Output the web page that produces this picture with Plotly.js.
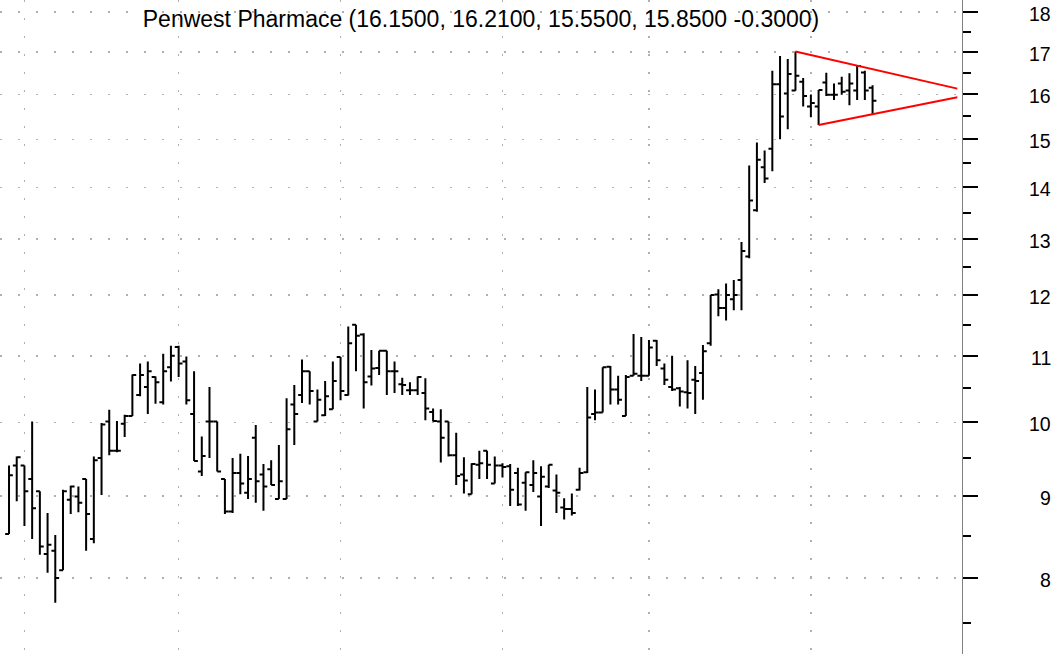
<!DOCTYPE html>
<html>
<head>
<meta charset="utf-8">
<script src="https://cdn.plot.ly/plotly-3.0.1.min.js"></script>
<style>
html,body{margin:0;padding:0;background:#fff;}
#chart{width:1061px;height:654px;}
</style>
</head>
<body>
<div id="chart"></div>
<script>
const titleText = "Penwest Pharmace (16.1500, 16.2100, 15.5500, 15.8500 -0.3000)";

const openP = [8.52,9.40,9.40,9.22,9.06,8.28,8.32,8.09,8.95,8.99,
  9.22,8.46,9.50,10.01,9.60,9.98,10.09,10.40,10.52,10.67,
  10.29,10.82,11.14,10.91,10.12,9.32,10.01,10.01,9.22,8.80,
  9.30,9.04,9.78,9.28,9.35,8.96,8.96,10.26,10.40,10.76,
  10.01,10.10,10.19,10.98,10.40,11.50,11.34,10.68,10.81,11.08,
  10.76,10.56,10.47,10.47,10.43,10.15,10.01,10.01,9.54,9.28,
  9.02,9.41,9.60,9.16,9.40,9.39,9.30,9.17,9.14,8.99,
  9.12,9.07,8.85,8.83,9.08,9.31,10.12,10.14,10.83,10.48,
  10.09,10.69,10.69,10.69,11.24,10.80,10.52,10.50,10.44,10.63,
  10.73,11.20,12.01,11.78,11.93,12.26,12.68,13.55,14.41,14.80,
  16.23,16.02,16.09,16.29,15.72,15.72,16.27,15.99,16.25,16.09,
  16.09,16.51,16.15];
const highP = [9.40,9.52,9.40,10.01,9.06,8.78,8.51,9.08,9.13,9.12,
  9.22,9.52,9.99,10.18,10.02,10.11,10.71,10.88,10.91,10.68,
  11.03,11.16,11.16,10.99,10.76,9.80,10.52,10.01,9.22,9.50,
  9.56,9.53,9.96,9.42,9.47,9.68,10.35,10.55,10.94,10.76,
  10.48,10.61,10.91,10.98,11.47,11.50,11.36,11.09,11.08,11.08,
  10.91,10.66,10.59,10.68,10.65,10.20,10.19,10.01,9.85,9.51,
  9.43,9.60,9.60,9.52,9.43,9.42,9.37,9.31,9.47,9.39,
  9.41,9.28,8.97,9.03,9.37,10.52,10.48,10.82,10.84,10.69,
  10.70,11.35,11.30,11.25,11.25,10.88,11.00,10.52,10.93,10.84,
  11.17,12.00,12.10,12.20,12.26,12.95,14.45,14.93,14.76,16.55,
  16.90,16.83,17.01,16.38,15.99,16.10,16.50,16.25,16.41,16.49,
  16.68,16.55,16.21];
const lowP = [8.52,8.93,8.62,8.46,8.27,8.06,7.72,8.09,8.77,8.79,
  8.32,8.41,9.01,9.54,9.58,9.79,10.09,10.38,10.12,10.27,
  10.26,10.60,10.67,10.26,9.46,9.26,9.50,9.32,8.77,8.78,
  9.02,8.96,8.91,8.81,9.14,8.96,8.96,9.68,10.28,10.26,
  10.01,10.09,10.19,10.32,10.39,10.76,10.20,10.54,10.70,10.40,
  10.43,10.40,10.40,10.40,10.03,10.01,9.44,9.52,9.14,9.03,
  9.02,9.22,9.22,9.16,9.24,8.87,8.87,8.81,9.05,8.62,
  9.10,8.78,8.70,8.75,9.07,9.30,10.03,10.14,10.26,10.26,
  10.09,10.69,10.61,10.69,10.84,10.55,10.46,10.23,10.20,10.12,
  10.33,11.16,11.64,11.57,11.74,11.74,12.65,13.52,14.09,14.33,
  15.00,15.22,16.08,15.72,15.48,15.31,15.96,15.87,15.99,15.75,
  15.87,15.87,15.55];
const closeP = [9.27,9.51,9.06,8.84,8.37,8.39,8.00,9.06,9.12,8.91,
  8.77,9.47,9.97,9.60,9.60,10.09,10.70,10.70,10.76,10.59,
  10.76,11.00,10.88,10.32,9.46,9.53,10.01,9.32,8.80,9.30,
  9.16,9.22,9.19,9.12,9.14,9.19,9.90,10.12,10.76,10.46,
  10.33,10.38,10.61,10.46,11.20,11.32,10.59,10.80,11.08,10.76,
  10.76,10.55,10.47,10.67,10.20,10.02,9.78,9.54,9.26,9.20,
  9.42,9.43,9.41,9.40,9.38,9.08,8.89,9.31,9.30,9.25,
  9.41,9.04,8.83,8.78,9.30,10.07,10.14,10.82,10.48,10.33,
  10.67,10.72,10.69,11.13,10.93,10.63,10.48,10.45,10.43,10.61,
  11.07,12.00,11.78,12.00,12.00,12.78,13.74,14.57,14.18,16.23,
  15.50,16.47,16.43,15.96,15.80,16.10,15.99,15.99,16.06,16.25,
  16.66,16.09,15.85];

// month boundary gridlines (bar index)
const monthGridIdx = [2, 22, 43, 64, 83, 104];

// triangle (symmetrical pattern) lines
const upperLineX = [102, 123];
const upperLineY = [17.01, 16.13];
const lowerLineX = [105, 123];
const lowerLineY = [15.31, 15.93];

// y axis ticks
const yTickVals = [8, 9, 10, 11, 12, 13, 14, 15, 16, 17, 18];
const yTickText = ["8", "9", "10", "11", "12", "13", "14", "15", "16", "17", "18"];
const yMinorVals = [7.5, 8.5, 9.5, 10.5, 11.5, 12.5, 13.5, 14.5, 15.5, 16.5, 17.5];

const barIdx = openP.map((_, i) => i);

const traces = [
  {
    type: 'ohlc',
    x: barIdx, open: openP, high: highP, low: lowP, close: closeP,
    increasing: {line: {color: '#000000', width: 2}},
    decreasing: {line: {color: '#000000', width: 2}},
    tickwidth: 0.5,
    showlegend: false,
    hoverinfo: 'skip'
  },
  {
    type: 'scatter', mode: 'lines', x: upperLineX, y: upperLineY,
    line: {color: '#ff0000', width: 2}, showlegend: false, hoverinfo: 'skip'
  },
  {
    type: 'scatter', mode: 'lines', x: lowerLineX, y: lowerLineY,
    line: {color: '#ff0000', width: 2}, showlegend: false, hoverinfo: 'skip'
  }
];

const annotations = yTickVals.map((v, i) => ({
  xref: 'paper', yref: 'y', x: 1053 / 962, y: Math.log10(v),
  xanchor: 'right', yanchor: 'middle', yshift: -2,
  text: yTickText[i], showarrow: false,
  font: {family: 'Liberation Sans, Arial, sans-serif', size: 19.5, color: '#000'}
}));

const layout = {
  width: 1061, height: 654,
  margin: {l: 0, r: 99, t: 0, b: 0, pad: 0},
  paper_bgcolor: '#ffffff', plot_bgcolor: '#ffffff',
  font: {family: 'Liberation Sans, Arial, sans-serif', size: 18, color: '#000'},
  title: {
    text: titleText,
    font: {family: 'Liberation Sans, Arial, sans-serif', size: 23, color: '#000'},
    xref: 'paper', x: 0.5, xanchor: 'center',
    yref: 'container', y: 1 - 19 / 654, yanchor: 'middle'
  },
  showlegend: false,
  xaxis: {
    range: [-1.17, 123.6],
    rangeslider: {visible: false},
    tickmode: 'array', tickvals: monthGridIdx,
    showticklabels: false, ticks: '',
    showgrid: true, gridcolor: '#b0b0b0', gridwidth: 1.5, griddash: '2px,16px',
    zeroline: false, showline: false, fixedrange: true
  },
  yaxis: {
    type: 'log', side: 'right',
    range: [0.8558, 1.2628],
    tickmode: 'array', tickvals: yTickVals, ticktext: yTickText,
    showticklabels: false,
    ticks: 'outside', ticklen: 15, tickwidth: 2, tickcolor: '#000',
    showline: true, linecolor: '#808080', linewidth: 1,
    showgrid: true, gridcolor: '#b0b0b0', gridwidth: 1.5, griddash: '2px,16px',
    zeroline: false,
    minor: {tickmode: 'array', tickvals: yMinorVals, ticks: 'outside', ticklen: 8, tickwidth: 2, tickcolor: '#000', showgrid: false}
  },
  annotations: annotations
};

Plotly.newPlot('chart', traces, layout, {displayModeBar: false, staticPlot: true});
</script>
</body>
</html>
